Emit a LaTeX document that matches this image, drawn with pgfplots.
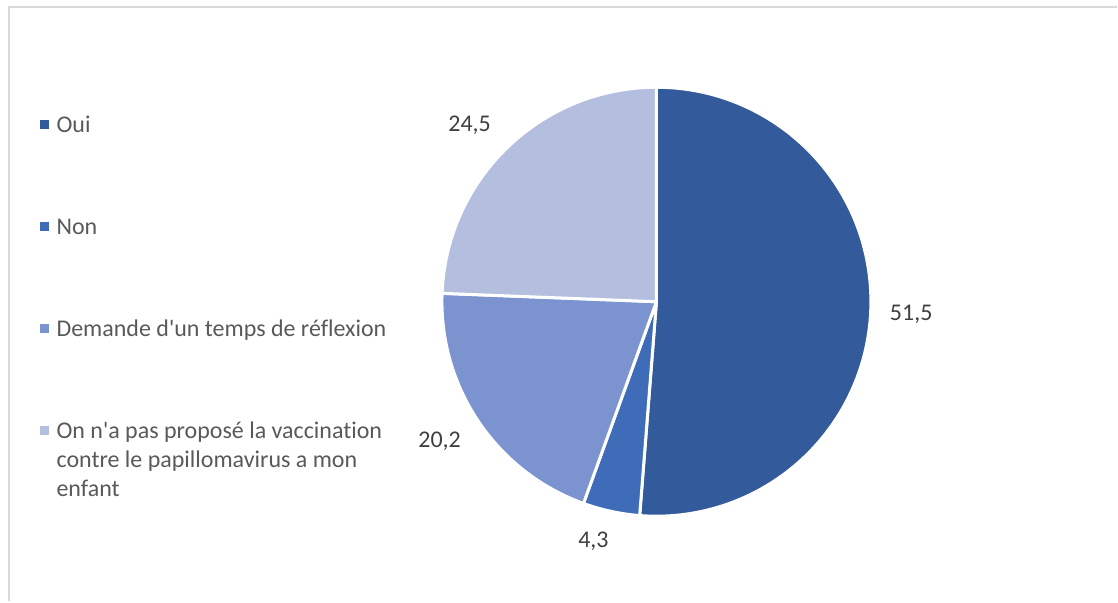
\documentclass[border=0pt]{standalone}
\usepackage{pgfplots}
\usepackage{pgfplotstable}
\pgfplotsset{compat=1.18}
\usepackage{fontspec}
\setmainfont{Carlito}[Ligatures={NoCommon}]
\definecolor{slice0}{HTML}{335A9A}
\definecolor{slice1}{HTML}{3F6CB9}
\definecolor{slice2}{HTML}{7B93CF}
\definecolor{slice3}{HTML}{B4BEDF}
\definecolor{legendgray}{HTML}{595959}
\definecolor{labelgray}{HTML}{404040}
\definecolor{framegray}{HTML}{D9D9D9}
\pgfplotstableread{
label val
Oui 51.5
Non 4.3
Demande 20.2
Onnapas 24.5
}\piedata
\protected\def\lastentry{\begin{tabular}[t]{@{}l@{}}On n\textquotesingle a pas proposé la vaccination\\[0.5pt]contre le papillomavirus a mon\\[0.5pt]enfant\end{tabular}}
\begin{document}
\begin{tikzpicture}
\pgfmathsetmacro\total{0}
\pgfplotsforeachungrouped \i in {0,1,2,3} {%
  \pgfplotstablegetelem{\i}{val}\of\piedata
  \pgfmathsetmacro\total{\total+\pgfplotsretval}%
}
\begin{axis}[
  width=838.5pt, height=451.5pt, scale only axis,
  xmin=0, xmax=1118, ymin=0, ymax=602,
  hide axis, clip=false,
  font=\fontsize{18pt}{21.4pt}\selectfont,
  legend image code/.code={\fill[#1, draw=none] (-3.375pt,-3.375pt) rectangle (3.375pt,3.375pt);},
  legend cell align=left,
  legend style={at={(axis description cs:0.03578,0.81395)}, anchor=north west,
    draw=none, fill=none, inner sep=0pt, text=legendgray,
    font=\fontsize{18pt}{21.4pt}\selectfont,
    /tikz/column sep=5.5pt, /tikz/row sep=57.8pt,
    nodes={inner sep=0pt, text height=15.1pt, text depth=3.6pt}},
]
\path (rel axis cs:0,0) rectangle (rel axis cs:1,1);
\draw[framegray, line width=1.5pt] (axis cs:9,0) -- (axis cs:9,595) -- (axis cs:1118,595);
\def\cum{0}
\pgfplotsforeachungrouped \i in {0,1,2,3} {%
  \pgfplotstablegetelem{\i}{val}\of\piedata
  \pgfmathsetmacro\a{90-(\cum/\total)*360}%
  \pgfmathsetmacro\cum{\cum+\pgfplotsretval}%
  \pgfmathsetmacro\b{90-(\cum/\total)*360}%
  \edef\temp{\noexpand\fill[slice\i, draw=white, line width=2.25pt, line join=round]
    (axis cs:657,300) -- ++(\a:161pt) arc[start angle=\a, end angle=\b, radius=161pt] -- cycle;}%
  \temp
}
\addlegendimage{fill=slice0}\addlegendentry{Oui}
\addlegendimage{fill=slice1}\addlegendentry{Non}
\addlegendimage{fill=slice2}\addlegendentry{Demande d\textquotesingle un temps de réflexion}
\addlegendimage{fill=slice3}\addlegendentry{\lastentry}
\node[anchor=base, text=labelgray, inner sep=0pt] at (axis cs:912,281) {51,5};
\node[anchor=base, text=labelgray, inner sep=0pt] at (axis cs:594,54) {4,3};
\node[anchor=base, text=labelgray, inner sep=0pt] at (axis cs:440,154) {20,2};
\node[anchor=base, text=labelgray, inner sep=0pt] at (axis cs:470,470) {24,5};
\end{axis}
\end{tikzpicture}
\end{document}
